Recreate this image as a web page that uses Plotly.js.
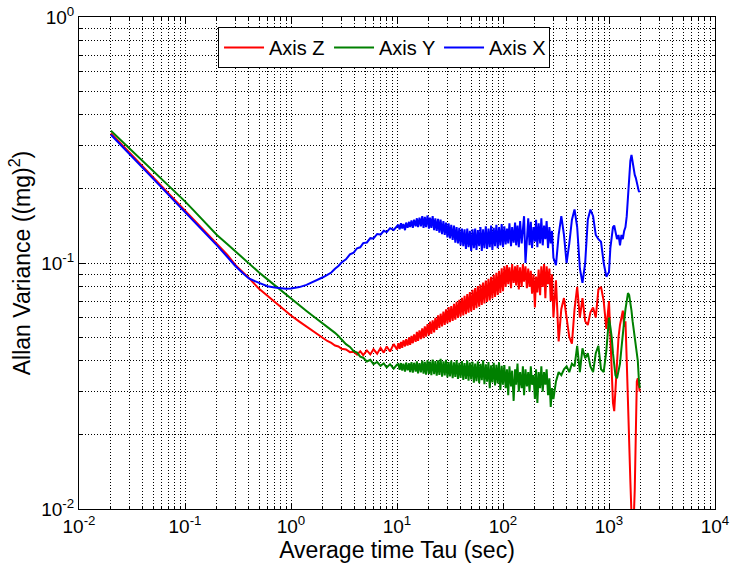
<!DOCTYPE html>
<html>
<head>
<meta charset="utf-8">
<script src="https://cdn.plot.ly/plotly-3.0.1.min.js"></script>
<style>html,body{margin:0;padding:0;background:#fff;}#chart{width:732px;height:572px;}</style>
</head>
<body>
<div id="chart"></div>
<script>
// Averaging time tau (sec)
var TAU = [
  0.02, 0.025, 0.03, 0.04, 0.05, 0.06, 0.08, 0.1, 0.12, 0.15, 0.2, 0.25, 0.3, 0.35, 0.4, 0.5, 0.6, 0.7, 0.8, 0.9, 1.0, 1.2, 1.4, 1.6, 1.8, 2.0,
  2.2, 2.4, 2.6, 2.8, 3.0, 3.3, 3.6, 3.9, 4.2, 4.5, 4.8, 5.2, 5.6, 6.0, 6.5, 7.0, 7.5, 8.0, 8.6, 9.3, 10,
  10.3, 10.6, 10.9, 11.2, 11.5, 11.9, 12.2, 12.6, 13, 13.3, 13.7, 14.1, 14.5, 15, 15.4, 15.8, 16.3, 16.8, 17.3, 17.8,
  18.3, 18.8, 19.4, 20, 20.5, 21.1, 21.7, 22.4, 23, 23.7, 24.4, 25.1, 25.8, 26.6, 27.4, 28.2, 29, 29.9, 30.7, 31.6,
  32.5, 33.5, 34.5, 35.5, 36.5, 37.6, 38.7, 39.8, 41, 42.2, 43.4, 44.7, 46, 47.3, 48.7, 50.1, 51.6, 53.1, 54.6, 56.2,
  57.9, 59.6, 61.3, 63.1, 64.9, 66.8, 68.8, 70.8, 72.9, 75, 77.2, 79.4, 81.8, 84.1, 86.6, 89.1, 91.7, 94.4, 97.2, 100,
  103, 106, 109, 112, 115, 119, 122, 126, 130, 133, 137, 141, 145, 150, 154, 158, 163, 168, 173, 178,
  183, 188, 194, 200, 205, 211, 217, 224, 230, 237, 244, 251, 258, 266, 274, 282, 290, 299,
  316, 335, 355, 376, 398, 422, 447, 473, 501, 531, 562, 596, 631, 668, 708, 750, 794, 841, 891, 944, 1000,
  1030, 1060, 1090, 1120, 1150, 1190, 1230, 1270, 1310, 1350, 1390, 1430, 1470, 1510, 1550, 1590, 1630, 1670, 1710, 1750,
  1790, 1830, 1870, 1910, 1950
];

// Allan variance, Axis Z (red)
var AXIS_Z = [
  0.337, 0.305, 0.281, 0.247, 0.223, 0.206, 0.181, 0.164, 0.151, 0.1365, 0.12, 0.108, 0.098, 0.092, 0.087, 0.0785, 0.0735, 0.0695, 0.066, 0.0635, 0.0612, 0.0578, 0.0552, 0.053, 0.0511, 0.0495,
  0.0482, 0.0473, 0.0462, 0.0458, 0.0448, 0.0445, 0.0434, 0.0436, 0.0424, 0.0438, 0.0422, 0.0441, 0.0425, 0.0446, 0.0428, 0.0452, 0.0432, 0.0458, 0.0437, 0.0468, 0.0445,
  0.0472, 0.0448, 0.0478, 0.0452, 0.0485, 0.0458, 0.049, 0.0462, 0.0498, 0.0465, 0.0505, 0.0472, 0.0512, 0.0478, 0.0525, 0.0482, 0.0532, 0.049, 0.0542, 0.0495,
  0.0552, 0.0502, 0.0565, 0.0508, 0.0578, 0.0515, 0.0585, 0.0522, 0.0598, 0.0535, 0.0612, 0.0545, 0.0622, 0.0552, 0.0635, 0.056, 0.0648, 0.0568, 0.0662, 0.0575,
  0.0668, 0.0582, 0.0682, 0.0588, 0.0695, 0.0598, 0.0708, 0.0605, 0.0722, 0.0612, 0.0735, 0.062, 0.0748, 0.0628, 0.0762, 0.0635, 0.0778, 0.0645, 0.079, 0.0655,
  0.0805, 0.0665, 0.0818, 0.0675, 0.0832, 0.0685, 0.0848, 0.0695, 0.0862, 0.0705, 0.0878, 0.0718, 0.0895, 0.0728, 0.0912, 0.0742, 0.093, 0.0755, 0.0952, 0.0768,
  0.097, 0.08, 0.098, 0.082, 0.096, 0.079, 0.099, 0.083, 0.097, 0.081, 0.098, 0.078, 0.096, 0.08, 0.099, 0.084, 0.097, 0.079, 0.095, 0.08,
  0.093, 0.075, 0.09, 0.066, 0.088, 0.076, 0.094, 0.074, 0.097, 0.08, 0.099, 0.072, 0.097, 0.082, 0.095, 0.07, 0.09, 0.06,
  0.085, 0.048, 0.065, 0.072, 0.06, 0.05, 0.047, 0.065, 0.08, 0.06, 0.072, 0.058, 0.056, 0.063, 0.066, 0.06, 0.078, 0.08, 0.07, 0.054, 0.07,
  0.05, 0.035, 0.027, 0.025, 0.03, 0.042, 0.05, 0.056, 0.06, 0.064, 0.055, 0.058, 0.04, 0.025, 0.019, 0.013, 0.0095, 0.008, 0.009, 0.012,
  0.02, 0.033, 0.034, 0.031, 0.030
];

// Allan variance, Axis Y (green)
var AXIS_Y = [
  0.345, 0.315, 0.293, 0.261, 0.238, 0.221, 0.196, 0.178, 0.164, 0.148, 0.13, 0.1195, 0.1112, 0.1048, 0.0995, 0.0915, 0.0858, 0.0812, 0.0775, 0.0743, 0.0715, 0.0672, 0.0638, 0.061, 0.0587, 0.0567,
  0.0552, 0.0536, 0.052, 0.0505, 0.049, 0.0468, 0.0456, 0.0438, 0.0432, 0.0416, 0.0412, 0.0398, 0.0404, 0.0388, 0.0396, 0.0382, 0.0391, 0.0376, 0.0388, 0.0372, 0.0386,
  0.0388, 0.0368, 0.0392, 0.0365, 0.039, 0.0362, 0.0394, 0.0366, 0.0391, 0.036, 0.0395, 0.0358, 0.0393, 0.0362, 0.0398, 0.0356, 0.0392, 0.0359, 0.0401, 0.0355,
  0.0396, 0.0352, 0.0403, 0.0354, 0.0397, 0.035, 0.0405, 0.0353, 0.0399, 0.0348, 0.0402, 0.0351, 0.0408, 0.0345, 0.0398, 0.0349, 0.0404, 0.0343, 0.0396, 0.0346,
  0.0401, 0.034, 0.0395, 0.0344, 0.0403, 0.0338, 0.0393, 0.0341, 0.0399, 0.0335, 0.0392, 0.0338, 0.0401, 0.0332, 0.0394, 0.0336, 0.0397, 0.0326, 0.039, 0.0331,
  0.0398, 0.0325, 0.0389, 0.0334, 0.0402, 0.0322, 0.0387, 0.0329, 0.0396, 0.031, 0.0384, 0.0327, 0.0393, 0.0318, 0.0386, 0.0324, 0.0395, 0.0305, 0.0382, 0.032,
  0.0385, 0.031, 0.037, 0.029, 0.038, 0.0315, 0.0365, 0.0275, 0.037, 0.032, 0.039, 0.03, 0.036, 0.031, 0.038, 0.029, 0.037, 0.0315, 0.036, 0.03,
  0.038, 0.032, 0.035, 0.028, 0.037, 0.027, 0.036, 0.031, 0.038, 0.03, 0.036, 0.032, 0.037, 0.029, 0.034, 0.026, 0.031, 0.028,
  0.033, 0.036, 0.035, 0.037, 0.038, 0.036, 0.039, 0.038, 0.046, 0.036, 0.045, 0.041, 0.043, 0.038, 0.036, 0.043, 0.046, 0.037, 0.036, 0.044, 0.06,
  0.055, 0.05, 0.043, 0.039, 0.035, 0.034, 0.036, 0.039, 0.045, 0.05, 0.058, 0.065, 0.071, 0.0755, 0.074, 0.07, 0.064, 0.058, 0.054, 0.05,
  0.046, 0.043, 0.04, 0.034, 0.031
];

// Allan variance, Axis X (blue)
var AXIS_X = [
  0.332, 0.301, 0.277, 0.243, 0.22, 0.203, 0.178, 0.161, 0.149, 0.134, 0.118, 0.106, 0.097, 0.091, 0.0865, 0.083, 0.0805, 0.0795, 0.079, 0.0786, 0.0788, 0.0798, 0.0815, 0.0835, 0.0855, 0.0875,
  0.0895, 0.0915, 0.0948, 0.0972, 0.1005, 0.1035, 0.1085, 0.1102, 0.1148, 0.1158, 0.1205, 0.1212, 0.1262, 0.1258, 0.1312, 0.1305, 0.1352, 0.1335, 0.1385, 0.1362, 0.141,
  0.143, 0.137, 0.145, 0.138, 0.144, 0.136, 0.146, 0.139, 0.147, 0.14, 0.149, 0.139, 0.15, 0.141, 0.152, 0.14, 0.153, 0.141, 0.155, 0.139,
  0.154, 0.14, 0.156, 0.138, 0.153, 0.139, 0.155, 0.136, 0.152, 0.135, 0.151, 0.133, 0.15, 0.131, 0.148, 0.13, 0.146, 0.127, 0.145, 0.126,
  0.143, 0.124, 0.142, 0.121, 0.14, 0.12, 0.139, 0.118, 0.138, 0.117, 0.137, 0.114, 0.138, 0.116, 0.135, 0.112, 0.137, 0.115, 0.138, 0.113,
  0.136, 0.117, 0.14, 0.112, 0.137, 0.115, 0.141, 0.114, 0.138, 0.116, 0.142, 0.113, 0.139, 0.117, 0.143, 0.115, 0.14, 0.118, 0.144, 0.116,
  0.141, 0.119, 0.138, 0.12, 0.145, 0.117, 0.14, 0.121, 0.146, 0.118, 0.142, 0.116, 0.148, 0.12, 0.143, 0.155, 0.1, 0.13, 0.152, 0.118,
  0.147, 0.115, 0.14, 0.122, 0.15, 0.116, 0.145, 0.12, 0.152, 0.118, 0.142, 0.125, 0.148, 0.115, 0.14, 0.12, 0.135, 0.105,
  0.098, 0.13, 0.155, 0.13, 0.1, 0.12, 0.15, 0.165, 0.14, 0.095, 0.083, 0.1, 0.15, 0.165, 0.155, 0.13, 0.125, 0.122, 0.1, 0.088, 0.092,
  0.115, 0.13, 0.14, 0.142, 0.135, 0.125, 0.13, 0.118, 0.13, 0.125, 0.135, 0.14, 0.155, 0.19, 0.235, 0.26, 0.275, 0.255, 0.24, 0.228,
  0.222, 0.21, 0.2, 0.196, 0.194
];

var SERIES_NAMES = ['Axis Z', 'Axis Y', 'Axis X'];
var SERIES_COLORS = ['#ff0000', '#008000', '#0000ff'];

var X_TICK_VALS = [0.01, 0.1, 1, 10, 100, 1000, 10000];
var X_TICK_TEXT = ['10<sup>-2</sup>', '10<sup>-1</sup>', '10<sup>0</sup>', '10<sup>1</sup>', '10<sup>2</sup>', '10<sup>3</sup>', '10<sup>4</sup>'];
var Y_TICK_VALS = [0.01, 0.1, 1];
var Y_TICK_TEXT = ['10<sup>-2</sup>', '10<sup>-1</sup>', '10<sup>0</sup>'];

function minorVals(lo, hi) {
  var out = [];
  for (var e = lo; e < hi; e++) {
    for (var m = 2; m <= 9; m++) out.push(m * Math.pow(10, e));
  }
  return out;
}

var FONT = 'Arial, "Liberation Sans", Helvetica, sans-serif';
var ys = [AXIS_Z, AXIS_Y, AXIS_X];
var traces = ys.map(function (y, i) {
  return {
    x: TAU, y: y, type: 'scatter', mode: 'lines', name: SERIES_NAMES[i],
    line: {color: SERIES_COLORS[i], width: 2}
  };
});

var gridDash = '1px,2px';
function axisCommon() {
  return {
    type: 'log', showline: true, linecolor: '#000', linewidth: 1, mirror: 'allticks',
    ticks: 'inside', ticklen: 6, tickcolor: '#000', tickwidth: 1,
    showgrid: true, gridcolor: '#000', gridwidth: 1, griddash: gridDash,
    zeroline: false, tickmode: 'array',
    tickfont: {family: FONT, size: 19, color: '#000'}
  };
}
var xa = axisCommon();
xa.range = [-2, 4];
xa.tickvals = X_TICK_VALS; xa.ticktext = X_TICK_TEXT;
xa.minor = {tickmode: 'array', tickvals: minorVals(-2, 4), ticks: 'inside', ticklen: 3, tickcolor: '#000',
  showgrid: true, gridcolor: '#000', gridwidth: 1, griddash: gridDash};
xa.title = {text: 'Average time Tau (sec)', font: {family: FONT, size: 23, color: '#000'}, standoff: 4};

var ya = axisCommon();
ya.range = [-2, 0];
ya.tickvals = Y_TICK_VALS; ya.ticktext = Y_TICK_TEXT;
ya.minor = {tickmode: 'array', tickvals: minorVals(-2, 0), ticks: 'inside', ticklen: 3, tickcolor: '#000',
  showgrid: true, gridcolor: '#000', gridwidth: 1, griddash: gridDash};
ya.title = {text: 'Allan Variance ((mg)<sup>2</sup>)', font: {family: FONT, size: 23, color: '#000'}, standoff: 4};

var layout = {
  width: 732, height: 572,
  margin: {l: 79, r: 17, t: 17, b: 63},
  paper_bgcolor: '#fff', plot_bgcolor: '#fff',
  font: {family: FONT, color: '#000'},
  showlegend: true,
  legend: {
    orientation: 'h', x: 0.2186, y: 0.9797, xanchor: 'left', yanchor: 'top',
    bgcolor: '#fff', bordercolor: '#000', borderwidth: 1,
    itemwidth: 40, entrywidth: 55, entrywidthmode: 'pixels',
    font: {family: FONT, size: 20, color: '#000'}, traceorder: 'normal'
  },
  xaxis: xa, yaxis: ya
};

Plotly.newPlot('chart', traces, layout, {displayModeBar: false, staticPlot: true});
</script>
</body>
</html>
